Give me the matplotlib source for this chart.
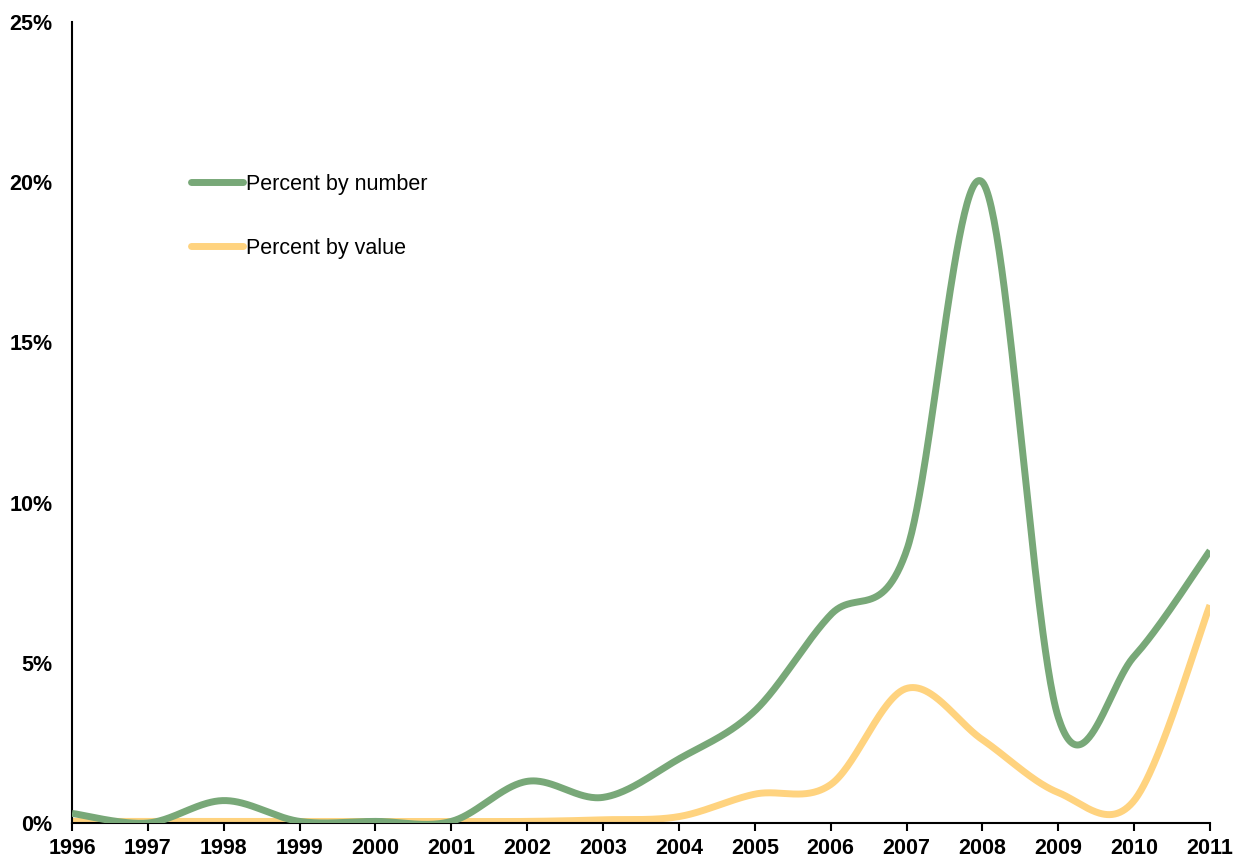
import numpy as np
import matplotlib
matplotlib.use("Agg")
import matplotlib.pyplot as plt
from matplotlib.ticker import FuncFormatter

years = list(range(1996, 2012))
pct_number = [0.3, 0.0, 0.7, 0.05, 0.05, 0.05, 1.3, 0.8, 2.0, 3.5, 6.5, 8.5, 20.0, 3.3, 5.2, 8.5]
pct_value = [0.05, 0.05, 0.05, 0.05, 0.05, 0.05, 0.05, 0.1, 0.2, 0.9, 1.2, 4.2, 2.6, 0.95, 0.7, 6.8]
y_ticks = [0, 5, 10, 15, 20, 25]

plt.rcParams['font.family'] = ['Liberation Sans', 'DejaVu Sans']


def smooth(xs, ys, n=60):
    xs = np.asarray(xs, float)
    ys = np.asarray(ys, float)
    px = np.concatenate([[xs[0]], xs, [xs[-1]]])
    py = np.concatenate([[ys[0]], ys, [ys[-1]]])
    outx, outy = [], []
    t = np.linspace(0, 1, n)
    for i in range(1, len(px) - 2):
        p0 = np.array([px[i], py[i]])
        p3 = np.array([px[i + 1], py[i + 1]])
        c1 = p0 + (np.array([px[i + 1], py[i + 1]]) - np.array([px[i - 1], py[i - 1]])) / 6
        c2 = p3 - (np.array([px[i + 2], py[i + 2]]) - np.array([px[i], py[i]])) / 6
        b = ((1 - t) ** 3)[:, None] * p0 + (3 * (1 - t) ** 2 * t)[:, None] * c1 + \
            (3 * (1 - t) * t ** 2)[:, None] * c2 + (t ** 3)[:, None] * p3
        outx.extend(b[:, 0])
        outy.extend(b[:, 1])
    return np.array(outx), np.array(outy)


fig = plt.figure(figsize=(12.34, 8.59), dpi=100)
ax = fig.add_axes([72 / 1234, 36 / 859, (1210 - 72) / 1234, (823 - 22) / 859])

green = '#78A878'
yellow = '#FFD37F'
sx, sy = smooth(years, pct_number)
ax.plot(sx, sy, color=green, lw=5, solid_capstyle='butt', label='Percent by number', zorder=3)
sx, sy = smooth(years, pct_value)
ax.plot(sx, sy, color=yellow, lw=5, solid_capstyle='butt', label='Percent by value', zorder=2)

ax.set_xlim(1996, 2011)
ax.set_ylim(0, 25)
ax.set_xticks(years)
ax.set_yticks(y_ticks)
ax.yaxis.set_major_formatter(FuncFormatter(lambda v, p: f"{int(v)}%"))
for s in ['top', 'right']:
    ax.spines[s].set_visible(False)
for s in ['left', 'bottom']:
    ax.spines[s].set_linewidth(1.5)
    ax.spines[s].set_color('black')
ax.tick_params(axis='y', length=0, pad=14, labelsize=15.5)
ax.tick_params(axis='x', length=6, width=1.5, direction='out', pad=5, labelsize=15.5)
for lab in ax.get_xticklabels() + ax.get_yticklabels():
    lab.set_fontweight('bold')
for lab in ax.get_xticklabels():
    lab.set_clip_on(False)

leg = ax.legend(loc='upper left', bbox_to_anchor=((182 - 72) / 1138, 1 - (165 - 22) / 801),
                frameon=False, fontsize=15.5, handlelength=2.45, handletextpad=0.12,
                labelspacing=2.0, borderaxespad=0)
for h in leg.get_lines():
    h.set_solid_capstyle('round')

fig.savefig('out.png', dpi=100)
